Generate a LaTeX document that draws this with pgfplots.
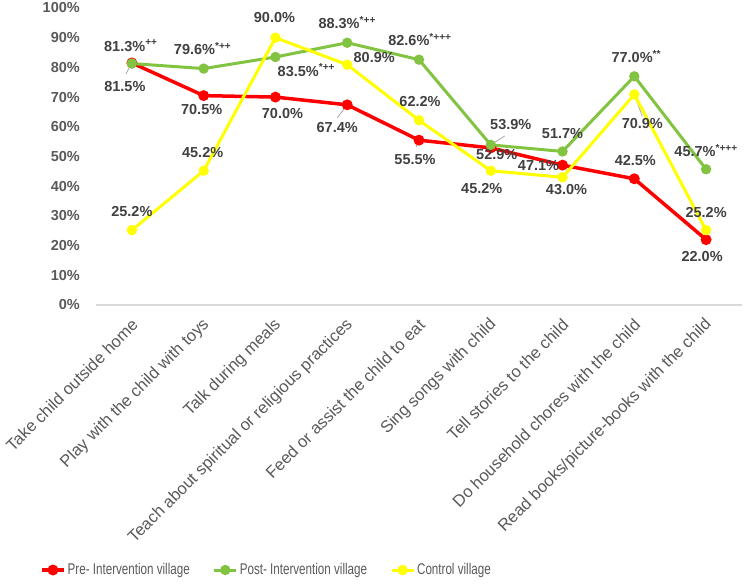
\documentclass[border=0pt]{standalone}
\usepackage{pgfplots}
\pgfplotsset{compat=1.18}
\usepackage{pgfplotstable}
\usepackage{fontspec}
\setmainfont{Liberation Sans}
\newfontfamily\narrowfont[FakeStretch=0.75]{Liberation Sans}

\definecolor{prered}{HTML}{FF0000}
\definecolor{postgreen}{HTML}{82C341}
\definecolor{ctrlyellow}{HTML}{FFFF00}
\definecolor{lbl}{HTML}{404040}
\definecolor{tickgray}{HTML}{595959}
\definecolor{basegray}{HTML}{D9D9D9}

% significance marks: 0 none, 1 ++, 2 *++, 3 *+++, 4 **
\newcommand\sigmark[1]{\pgfmathtruncatemacro\sigk{#1}%
  \ifcase\sigk\or\textsuperscript{++}\or\textsuperscript{*++}\or
  \textsuperscript{*+++}\or\textsuperscript{**}\fi}

% x = activity index, y = percentage, s = significance mark,
% dx/dy = offset of the value label from its point (bp)
\pgfplotstableread{
x y    s dx  dy
0 81.5 0  -7  -24
1 70.5 0  -2  -14
2 70.0 0   7  -16
3 67.4 0 -10  -23
4 55.5 0  -4  -19
5 52.9 0   6   -7
6 47.1 0 -24    0
7 42.5 0   1   18
8 22.0 0  -4  -17
}\pretab

\pgfplotstableread{
x y    s dx dy
0 81.3 1 -1 18
1 79.6 2 -1 20
2 83.5 2 31 -13
3 88.3 2  0 20
4 82.6 3  1 20
5 53.9 0 20 20
6 51.7 0  0 18
7 77.0 4  2 20
8 45.7 3  0 19
}\posttab

\pgfplotstableread{
x y    s dx  dy
0 25.2 0   0  19
1 45.2 0  -1  18
2 90.0 0  -1  20
3 80.9 0  27   7
4 62.2 0   1  19
5 45.2 0  -9 -18
6 43.0 0   4 -12
7 70.9 0   8 -29
8 25.2 0   0  18
}\ctrltab

\begin{document}
\begin{tikzpicture}
\useasboundingbox (0,0) rectangle (744bp,585bp);
\begin{axis}[
  at={(96bp,280bp)}, anchor=south west,
  scale only axis, width=646bp, height=297bp,
  xmin=-0.5, xmax=8.5, ymin=0, ymax=100,
  clip=false,
  axis line style={draw=none},
  major tick length=0pt,
  /pgf/number format/assume math mode=true,
  xtick={0,...,8},
  xticklabels={Take child outside home, Play with the child with toys, Talk during meals,
    Teach about spiritual or religious practices, Feed or assist the child to eat,
    Sing songs with child, Tell stories to the child, Do household chores with the child,
    Read books/picture-books with the child},
  xticklabel style={xshift=3bp, yshift=-17bp, rotate=45, anchor=east, inner sep=0pt,
    font=\fontsize{16.6bp}{18bp}\selectfont, text=tickgray},
  ytick={0,10,...,100},
  yticklabel={\pgfmathprintnumber{\tick}\%},
  yticklabel style={xshift=-16bp, anchor=east, inner sep=0pt,
    font=\bfseries\fontsize{14.5bp}{16bp}\selectfont, text=tickgray},
  legend columns=3,
  legend style={at={(axis description cs:-0.0867,-0.8923)}, anchor=west,
    draw=none, fill=none, inner sep=0pt,
    nodes={inner sep=1bp},
    font=\narrowfont\fontsize{15.5bp}{17bp}\selectfont, text=tickgray,
    /tikz/every odd column/.append style={column sep=1bp},
    /tikz/every even column/.append style={column sep=22bp}},
  legend image code/.code={\draw[#1, mark repeat=2, mark phase=2]
    plot coordinates {(0bp,0bp) (11bp,0bp) (22bp,0bp)};},
  point meta=y,
  nodes near coords={\pgfmathprintnumber[fixed,fixed zerofill,precision=1]{\pgfplotspointmeta}\%\sigmark{\sg}},
  visualization depends on={\thisrow{dx} \as \dx},
  visualization depends on={\thisrow{dy} \as \dy},
  visualization depends on={\thisrow{s} \as \sg},
  every node near coord/.append style={anchor=center, xshift=\dx bp, yshift=\dy bp,
    inner sep=0pt, font=\bfseries\fontsize{14.5bp}{16bp}\selectfont, text=lbl},
]
% baseline of the plot area
\draw[basegray, line width=1.5bp] (rel axis cs:0,0) -- (rel axis cs:1,0);
% leader lines of the labels moved away from their points
\draw[gray!75, line width=0.7bp] (axis cs:0,81.5) -- ++(-6bp,-11bp);
\draw[gray!75, line width=0.7bp] (axis cs:3,67.4) -- ++(-10bp,-13bp);
\draw[gray!75, line width=0.7bp] (axis cs:4,55.5) -- ++(-3bp,-7bp);
\draw[gray!75, line width=0.7bp] (axis cs:5,53.9) -- ++(14bp,9bp);
\draw[gray!75, line width=0.7bp] (axis cs:7,70.9) -- ++(8bp,-22bp);

\addplot[prered, line width=3.5bp, mark=*, mark size=3.6bp, mark options={solid}]
  table[x=x, y=y] {\pretab};
\addlegendentry{Pre- Intervention village}
\addplot[postgreen, line width=3bp, mark=*, mark size=3.6bp, mark options={solid}]
  table[x=x, y=y] {\posttab};
\addlegendentry{Post- Intervention village}
\addplot[ctrlyellow, line width=3bp, mark=*, mark size=3.6bp, mark options={solid}]
  table[x=x, y=y] {\ctrltab};
\addlegendentry{Control village}
\end{axis}
\end{tikzpicture}
\end{document}
